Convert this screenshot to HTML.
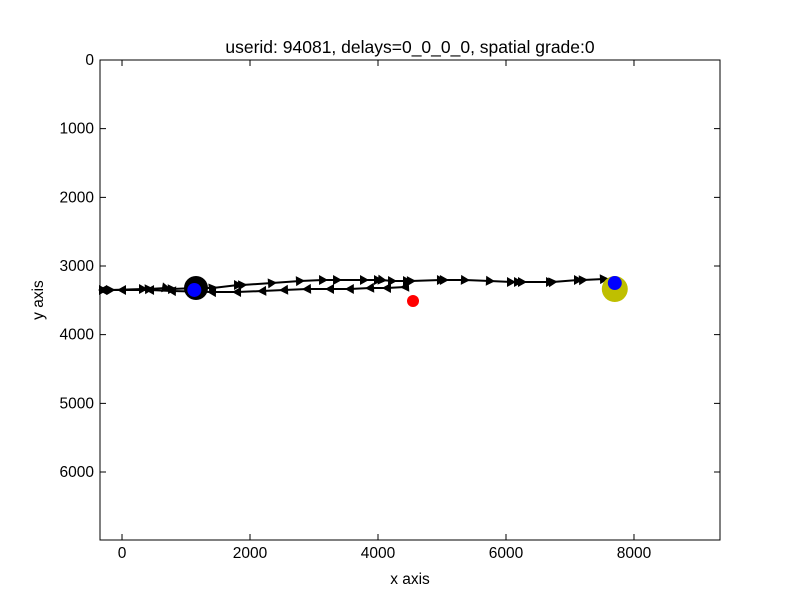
<!DOCTYPE html>
<html><head><meta charset="utf-8"><style>
body{margin:0;background:#fff;}
svg text{font-family:"Liberation Sans","DejaVu Sans",sans-serif;}
</style></head><body>
<svg id="chart" width="800" height="600" xmlns="http://www.w3.org/2000/svg">
<rect width="800" height="600" fill="#fff"/>
<text x="410" y="53" font-size="17.5" text-anchor="middle">userid: 94081, delays=0_0_0_0, spatial grade:0</text>
<g id="ticks"></g>
<g id="marks"></g>
<rect x="100" y="60" width="620" height="480" fill="none" stroke="#000" stroke-width="1"/>
<text x="410" y="584" font-size="15.5" text-anchor="middle">x axis</text>
<text x="43" y="300" font-size="15.5" text-anchor="middle" transform="rotate(-90 43 300)">y axis</text>
</svg>
<script>
const xTicks=[0,2000,4000,6000,8000];
const yTicks=[0,1000,2000,3000,4000,5000,6000];
const outX=[-297,-180,328,420,688,780,1156,1420,1813,1880,2344,2781,3141,3360,3781,4000,4063,4219,4453,4516,4984,5030,5359,5750,6078,6188,6250,6688,6730,7125,7203,7531];
const outY=[3349,3349,3335,3335,3320,3335,3320,3320,3277,3277,3248,3218,3204,3204,3204,3204,3204,3218,3218,3218,3204,3204,3204,3218,3233,3233,3233,3233,3233,3204,3204,3189];
const retX=[4422,4140,3875,3560,3250,2890,2531,2190,1797,1406,781,438,0,-297];
const retY=[3306,3320,3320,3335,3335,3335,3349,3364,3379,3379,3364,3349,3349,3349];
const circX=[1156,1130,4547,7700,7700];
const circY=[3320,3349,3510,3335,3248];
const circR=[12,7,6,13,7];
const circC=['#000','#0000ff','#ff0000','#bfbf00','#0000ff'];
const circN=['start-circle','start-point','target-point','end-circle','end-point'];
const X0=-344,X1=9344,Y0=0,Y1=6990;
const sx=v=>100+(v-X0)/(X1-X0)*620;
const sy=v=>60+(v-Y0)/(Y1-Y0)*480;
const NS='http://www.w3.org/2000/svg';
const tg=document.getElementById('ticks'),mg=document.getElementById('marks');
function mk(t,a,p){const e=document.createElementNS(NS,t);for(const k in a)e.setAttribute(k,a[k]);p.appendChild(e);return e;}
xTicks.forEach(v=>{const x=sx(v);
 const l=mk('path',{d:`M${x} 540V534M${x} 60V66`,stroke:'#000'},tg);
 
 
 const t=mk('text',{x:x,y:558,'font-size':15.5,'text-anchor':'middle'},tg);t.textContent=v;
 
 });
yTicks.forEach(v=>{const y=sy(v);
 const l=mk('path',{d:`M100 ${y}H106M720 ${y}H714`,stroke:'#000'},tg);
 
 
 const t=mk('text',{x:94,y:y+5,'font-size':15.5,'text-anchor':'end'},tg);t.textContent=v;
 
 });
function path(xs,ys,name){
 const d=xs.map((v,i)=>(i?'L':'M')+sx(v)+' '+sy(ys[i])).join('');
 const p=mk('path',{d:d,fill:'none',stroke:'#000','stroke-width':2},mg);
 
 
 xs.forEach((v,i)=>{const j=i<xs.length-1?i+1:i-1;let dx=sx(xs[j])-sx(v),dy=sy(ys[j])-sy(ys[i]);if(i==xs.length-1){dx=-dx;dy=-dy;}
  const a=Math.atan2(dy,dx)*180/Math.PI;
  const m=mk('path',{d:'M5 0L-4 -5L-4 5Z',fill:'#000',transform:`translate(${sx(v)},${sy(ys[i])}) rotate(${a})`},mg);
  
  });
}
path(outX,outY,'outbound-path');
path(retX,retY,'return-path');
circX.forEach((v,i)=>{const c=mk('circle',{cx:sx(v),cy:sy(circY[i]),r:circR[i],fill:circC[i]},mg);
 
 });
</script>
</body></html>
